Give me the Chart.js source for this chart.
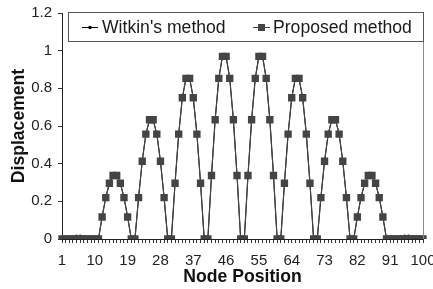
<!DOCTYPE html>
<html>
<head>
<meta charset="utf-8">
<script src="https://cdn.jsdelivr.net/npm/chart.js@4.4.1/dist/chart.umd.min.js"></script>
<style>
  html, body { margin: 0; padding: 0; background: #fff; }
  #wrap { width: 433px; height: 289px; position: relative; }
</style>
</head>
<body>
<div id="wrap"><canvas id="dispChart"></canvas></div>
<script>
// node positions 1..100 along the string
var nodes = [];
for (var n = 1; n <= 100; n++) nodes.push(n);

var xTickLabels = [1, 10, 19, 28, 37, 46, 55, 64, 73, 82, 91, 100];
var yTicks = [0, 0.2, 0.4, 0.6, 0.8, 1, 1.2];

var seriesNames = ["Witkin's method", "Proposed method"];

var witkin = [
  0, 0, 0.008, 0.012, 0.015, 0.015, 0.012, 0.008, 0, 0, 0,
  0.117, 0.22, 0.296, 0.337, 0.337, 0.296, 0.22, 0.117, 0, 0,
  0.22, 0.413, 0.557, 0.633, 0.633, 0.557, 0.413, 0.22, 0, 0,
  0.296, 0.557, 0.75, 0.853, 0.853, 0.75, 0.557, 0.296, 0, 0,
  0.337, 0.633, 0.853, 0.97, 0.97, 0.853, 0.633, 0.337, 0, 0,
  0.337, 0.633, 0.853, 0.97, 0.97, 0.853, 0.633, 0.337, 0, 0,
  0.296, 0.557, 0.75, 0.853, 0.853, 0.75, 0.557, 0.296, 0, 0,
  0.22, 0.413, 0.557, 0.633, 0.633, 0.557, 0.413, 0.22, 0, 0,
  0.117, 0.22, 0.296, 0.337, 0.337, 0.296, 0.22, 0.117,
  0, 0, 0, 0.008, 0.012, 0.015, 0.015, 0.012, 0.008, 0, 0
];

var proposed = [
  0, 0, 0, 0, 0, 0, 0, 0, 0, 0, 0,
  0.117, 0.22, 0.296, 0.337, 0.337, 0.296, 0.22, 0.117, 0, 0,
  0.22, 0.413, 0.557, 0.633, 0.633, 0.557, 0.413, 0.22, 0, 0,
  0.296, 0.557, 0.75, 0.853, 0.853, 0.75, 0.557, 0.296, 0, 0,
  0.337, 0.633, 0.853, 0.97, 0.97, 0.853, 0.633, 0.337, 0, 0,
  0.337, 0.633, 0.853, 0.97, 0.97, 0.853, 0.633, 0.337, 0, 0,
  0.296, 0.557, 0.75, 0.853, 0.853, 0.75, 0.557, 0.296, 0, 0,
  0.22, 0.413, 0.557, 0.633, 0.633, 0.557, 0.413, 0.22, 0, 0,
  0.117, 0.22, 0.296, 0.337, 0.337, 0.296, 0.22, 0.117,
  0, 0, 0, 0, 0, 0, 0, 0, 0, 0, 0
];

var FONT = "'Liberation Sans', Arial, sans-serif";

// boxed legend sitting inside the top of the plot, plus the grey right frame
var boxLegend = {
  id: 'boxLegend',
  afterDraw: function(chart) {
    var ctx = chart.ctx;
    var ca = chart.chartArea;
    ctx.save();

    ctx.strokeStyle = "#8a8a8a";
    ctx.lineWidth = 1;
    ctx.beginPath();
    ctx.moveTo(Math.round(ca.right) + 0.5, ca.top);
    ctx.lineTo(Math.round(ca.right) + 0.5, ca.bottom);
    ctx.stroke();

    var bx = 68.5, by = 12.5, bw = Math.round(ca.right) - 68, bh = 29;
    ctx.fillStyle = "#fff";
    ctx.fillRect(bx, by, bw, bh);
    ctx.strokeStyle = "#555";
    ctx.strokeRect(bx, by, bw, bh);

    var ds = chart.data.datasets;
    var items = [{x0: 82, x1: 98, tx: 102}, {x0: 253, x1: 270, tx: 273}];
    var cy = 27.5;
    ctx.font = "17.6px " + FONT;
    ctx.textBaseline = "middle";
    for (var i = 0; i < ds.length; i++) {
      var it = items[i];
      ctx.strokeStyle = ds[i].borderColor;
      ctx.lineWidth = 1;
      ctx.beginPath();
      ctx.moveTo(it.x0, cy);
      ctx.lineTo(it.x1, cy);
      ctx.stroke();
      ctx.fillStyle = ds[i].pointBackgroundColor;
      var mx = (it.x0 + it.x1) / 2;
      if (ds[i].pointStyle === 'rect') {
        ctx.fillRect(mx - 3.5, cy - 3.5, 7, 7);
      } else {
        ctx.beginPath();
        ctx.arc(mx, cy, 1.8, 0, Math.PI * 2);
        ctx.fill();
      }
      ctx.fillStyle = "#1a1a1a";
      ctx.fillText(ds[i].label, it.tx, cy + 1);
    }
    ctx.restore();
  }
};

var cx = document.getElementById('dispChart');
var myChart = new Chart(cx, {
  type: 'line',
  data: {
    labels: nodes,
    datasets: [{
      label: seriesNames[0],
      data: witkin,
      borderColor: "#000",
      backgroundColor: "#000",
      pointBackgroundColor: "#000",
      pointBorderWidth: 0,
      pointRadius: 1.6,
      pointStyle: 'circle',
      borderWidth: 1,
      fill: false,
      tension: 0,
      order: 1
    },
    {
      label: seriesNames[1],
      data: proposed,
      borderColor: "#444",
      backgroundColor: "#444",
      pointBackgroundColor: "#444",
      pointBorderWidth: 0,
      pointRadius: 5.2,
      pointStyle: 'rect',
      borderWidth: 1.2,
      fill: false,
      tension: 0,
      order: 0
    }]
  },
  options: {
    responsive: true,
    maintainAspectRatio: false,
    animation: false,
    events: [],
    layout: {padding: {top: 13, right: 10, left: 0, bottom: 0}},
    plugins: {
      legend: {display: false},
      tooltip: {enabled: false},
      title: {display: false}
    },
    scales: {
      x: {
        type: 'category',
        offset: false,
        grid: {drawOnChartArea: false, drawTicks: true, tickLength: 4, color: "#333"},
        border: {color: "#222", width: 1},
        ticks: {
          autoSkip: false,
          maxRotation: 0,
          padding: 9,
          color: "#222",
          font: {family: FONT, size: 15},
          callback: function(value, index) {
            var lab = nodes[index];
            return xTickLabels.indexOf(lab) >= 0 ? String(lab) : '';
          }
        },
        title: {display: true, text: 'Node Position', color: "#111",
                font: {family: FONT, size: 17.6, weight: 'bold'}, padding: {top: 0, bottom: 1}},
        afterFit: function(scale) {
          scale.height = 50;
          scale.paddingLeft = 0;
          scale.paddingRight = 0;
        }
      },
      y: {
        min: 0,
        max: 1.2,
        afterBuildTicks: function(scale) {
          scale.ticks = yTicks.map(function(v) { return {value: v}; });
        },
        grid: {drawOnChartArea: false, drawTicks: true, tickLength: 4, color: "#333"},
        border: {color: "#222", width: 1},
        ticks: {
          padding: 6,
          color: "#222",
          font: {family: FONT, size: 15},
          callback: function(value) { return String(Number(value.toFixed(1))); }
        },
        title: {display: true, text: 'Displacement', color: "#111",
                font: {family: FONT, size: 17.6, weight: 'bold'}, padding: {top: 9, bottom: 0}},
        afterFit: function(scale) {
          scale.width = 62;
          scale.paddingTop = 0;
          scale.paddingBottom = 0;
        }
      }
    }
  },
  plugins: [boxLegend]
});
</script>
</body>
</html>
